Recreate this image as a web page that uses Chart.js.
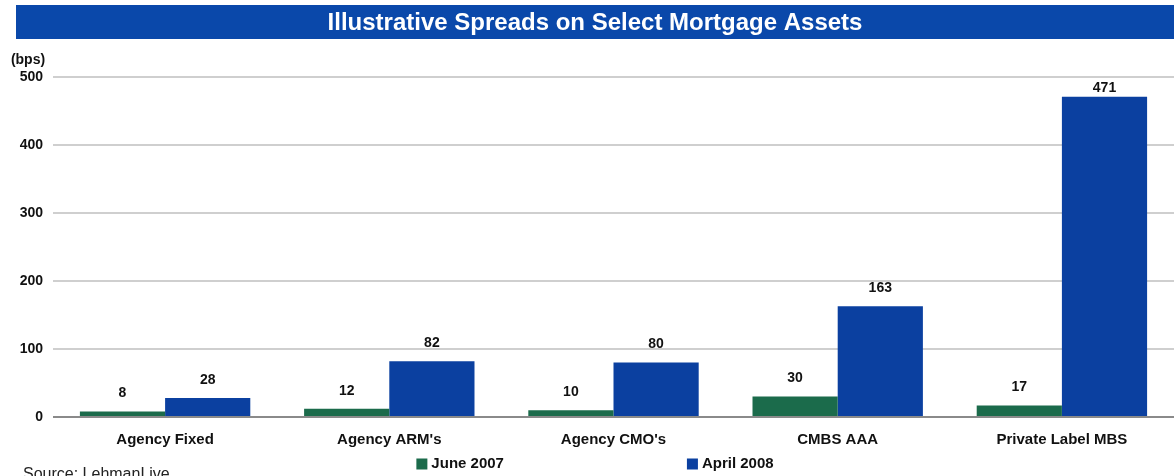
<!DOCTYPE html>
<html>
<head>
<meta charset="utf-8">
<script src="https://cdn.jsdelivr.net/npm/chart.js@4"></script>
<style>
  html, body { margin: 0; padding: 0; background: #fff; }
  #wrap { width: 1174px; height: 476px; position: relative; }
</style>
</head>
<body>
<div id="wrap"><canvas id="barChart"></canvas></div>
<script>
// chart data
var categories = ['Agency Fixed', "Agency ARM's", "Agency CMO's", 'CMBS AAA', 'Private Label MBS'];
var june2007 = [8, 12, 10, 30, 17];
var april2008 = [28, 82, 80, 163, 471];
var yTicks = [0, 100, 200, 300, 400, 500];

var titleText = 'Illustrative Spreads on Select Mortgage Assets';
var sourceText = 'Source: LehmanLive';
var fontFam = '"Liberation Sans", Arial, sans-serif';

// banner, unit label, legend, source line and value labels
var extras = {
    id: 'extras',
    beforeDraw: function(chart) {
        var ctx = chart.ctx;
        ctx.save();
        ctx.fillStyle = '#0a48aa';
        ctx.fillRect(16, 5, chart.width - 16, 34);
        ctx.fillStyle = '#ffffff';
        ctx.font = 'bold 24px ' + fontFam;
        ctx.textAlign = 'center';
        ctx.textBaseline = 'middle';
        ctx.fillText(titleText, (16 + chart.width) / 2, 23);
        ctx.restore();
    },
    afterDraw: function(chart) {
        var ctx = chart.ctx;
        ctx.save();
        ctx.fillStyle = '#111';
        ctx.font = 'bold 14px ' + fontFam;
        ctx.textAlign = 'center';
        ctx.textBaseline = 'middle';
        ctx.fillText('(bps)', 28, 60);

        // legend, centred under the banner
        ctx.font = 'bold 15px ' + fontFam;
        ctx.textAlign = 'left';
        var gap = 183, box = 11;
        var ds = chart.data.datasets;
        var widths = ds.map(function(d) { return box + 4 + ctx.measureText(d.label).width; });
        var total = widths.reduce(function(a, b) { return a + b; }, 0) + gap * (ds.length - 1);
        var x = (16 + chart.width) / 2 - total / 2;
        var ly = 464;
        ds.forEach(function(d, i) {
            ctx.fillStyle = d.backgroundColor;
            ctx.fillRect(x, ly - box / 2, box, box);
            ctx.fillStyle = '#111';
            ctx.fillText(d.label, x + box + 4, ly);
            x += widths[i] + gap;
        });

        ctx.font = '16px ' + fontFam;
        ctx.fillStyle = '#222';
        ctx.textBaseline = 'top';
        ctx.fillText(sourceText, 23, 467);
        ctx.restore();
    },
    afterDatasetsDraw: function(chart) {
        var ctx = chart.ctx;
        ctx.save();
        ctx.fillStyle = '#111';
        ctx.font = 'bold 14px ' + fontFam;
        ctx.textAlign = 'center';
        ctx.textBaseline = 'bottom';
        chart.data.datasets.forEach(function(ds, i) {
            chart.getDatasetMeta(i).data.forEach(function(bar, j) {
                var y = Math.max(bar.y - 11, chart.chartArea.top + 18);
                ctx.fillText(ds.data[j], bar.x, y);
            });
        });
        ctx.restore();
    }
};

var barctx = document.getElementById('barChart').getContext('2d');
var myChart = new Chart(barctx, {
    type: 'bar',
    data: {
        labels: categories,
        datasets: [{
            label: 'June 2007',
            data: june2007,
            backgroundColor: '#1b6b4b',
            categoryPercentage: 0.76,
            barPercentage: 1.0
        }, {
            label: 'April 2008',
            data: april2008,
            backgroundColor: '#0b40a0',
            categoryPercentage: 0.76,
            barPercentage: 1.0
        }]
    },
    options: {
        responsive: true,
        maintainAspectRatio: false,
        animation: false,
        layout: {
            padding: { top: 77, right: 0, left: 0, bottom: 21 }
        },
        plugins: {
            legend: { display: false },
            tooltip: { enabled: false }
        },
        scales: {
            x: {
                grid: { display: false },
                border: { display: false },
                ticks: {
                    color: '#111',
                    padding: 6,
                    font: { family: fontFam, size: 15, weight: 'bold' }
                }
            },
            y: {
                min: 0,
                max: 500,
                afterFit: function(scale) { scale.width = 53; },
                afterBuildTicks: function(scale) {
                    scale.ticks = yTicks.map(function(v) { return { value: v }; });
                },
                border: { display: false },
                grid: {
                    drawTicks: false,
                    lineWidth: 2,
                    color: function(c) { return c.tick && c.tick.value === 0 ? '#8a8a8a' : '#cfcfcf'; }
                },
                ticks: {
                    color: '#111',
                    padding: 10,
                    font: { family: fontFam, size: 14, weight: 'bold' }
                }
            }
        }
    },
    plugins: [extras]
});
</script>
</body>
</html>
